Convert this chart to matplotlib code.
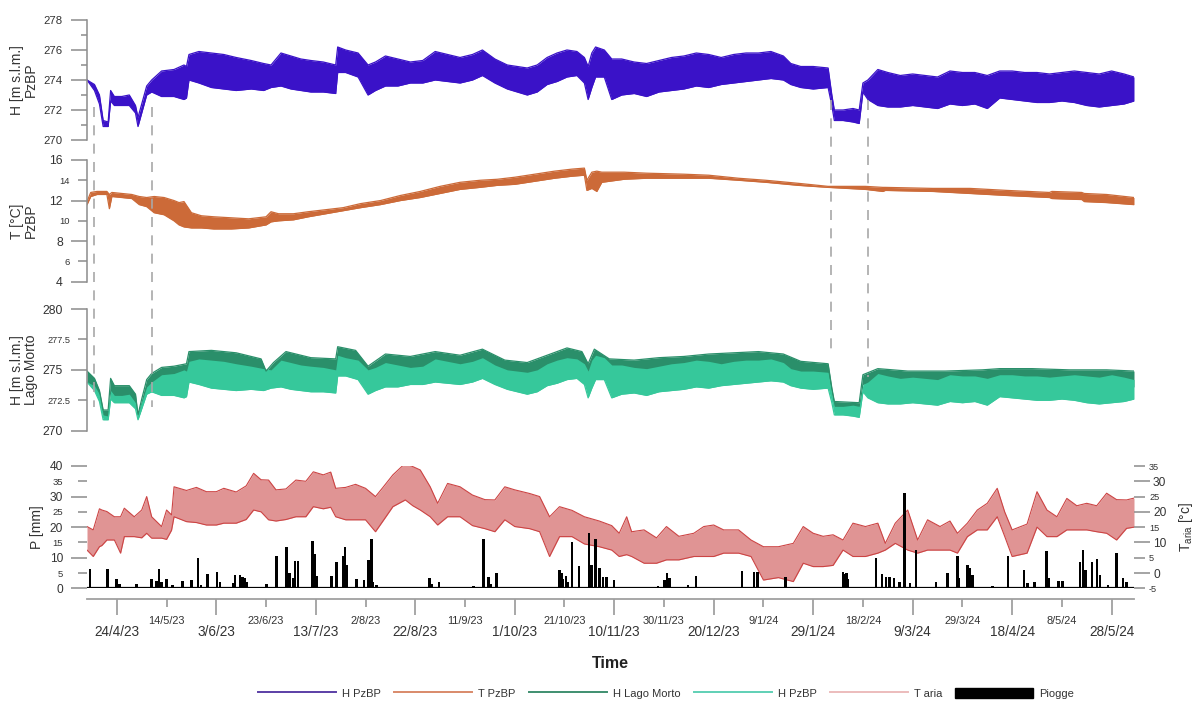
import numpy as np
import matplotlib
matplotlib.use('Agg')
import matplotlib.pyplot as plt
import matplotlib.dates as mdates
import matplotlib.ticker as mticker
import matplotlib.transforms as mtransforms
from matplotlib.lines import Line2D
from matplotlib.patches import Patch
from datetime import datetime

plt.rcParams['font.family'] = ['Liberation Sans', 'DejaVu Sans']

# ---------------- data (day offsets from START) ----------------
START = '2023-04-12'
END_DAY = 421

# H PzBP [m s.l.m.] envelope (upper / lower of the daily oscillation)
h_days = [0, 3, 5, 6.5, 8.5, 9.5, 11, 14, 17, 19.5, 20.5, 22, 24, 26, 30, 35, 39, 40, 41, 45,
          50, 55, 60, 66, 71, 74, 78, 82, 86, 90, 95, 100, 100.8, 104, 109, 113, 116, 120, 125, 130,
          135, 140, 145, 150, 155, 159, 164, 169, 173, 177, 181, 185, 189, 193, 197, 200, 201.5, 203, 204.5, 208,
          211, 215, 220, 225, 230, 235, 240, 245, 250, 255, 260, 265, 270, 275, 280, 283, 287, 292, 298, 299.5,
          300.5, 304, 308, 310.5, 312, 314, 318, 322, 327, 332, 337, 342, 347, 352, 357, 362, 367, 372, 377, 382,
          387, 392, 397, 402, 407, 412, 417, 421]
h_hi = [274.0, 273.7, 273.0, 271.3, 271.2, 273.3, 272.9, 272.9, 273.0, 272.3, 271.5, 272.4, 273.6, 274.0, 274.6, 274.7, 275.0, 274.9, 275.7, 275.9,
        275.8, 275.7, 275.5, 275.3, 275.1, 275.0, 275.8, 275.6, 275.4, 275.3, 275.2, 275.0, 276.2, 276.0, 275.8, 275.0, 275.2, 275.6, 275.4, 275.2,
        275.3, 275.9, 275.7, 275.5, 275.7, 276.0, 275.4, 275.0, 274.9, 274.8, 275.0, 275.5, 275.8, 276.0, 275.9, 275.5, 274.9, 275.8, 276.2, 276.0,
        275.4, 275.4, 275.2, 275.1, 275.3, 275.5, 275.6, 275.8, 275.7, 275.5, 275.7, 275.8, 275.8, 275.9, 275.6, 275.1, 274.9, 274.9, 274.8, 273.0,
        272.0, 272.0, 272.1, 272.0, 273.8, 274.0, 274.7, 274.5, 274.3, 274.4, 274.3, 274.2, 274.6, 274.5, 274.5, 274.3, 274.6, 274.6, 274.5, 274.5,
        274.4, 274.5, 274.6, 274.5, 274.4, 274.6, 274.4, 274.2]
h_lo = [274.0, 273.3, 272.4, 270.9, 270.9, 272.6, 272.3, 272.3, 272.3, 271.8, 270.9, 271.8, 273.0, 273.2, 272.9, 272.9, 272.7, 272.8, 274.0, 273.8,
        273.5, 273.4, 273.3, 273.4, 273.3, 273.5, 273.6, 273.4, 273.3, 273.2, 273.2, 273.1, 274.5, 274.5, 274.2, 273.0, 273.3, 273.6, 273.6, 273.8,
        273.8, 274.0, 273.9, 273.8, 274.0, 274.3, 273.8, 273.4, 273.2, 273.0, 273.2, 273.7, 273.9, 274.2, 274.3, 273.8, 272.7, 273.5, 274.2, 274.2,
        272.7, 273.0, 273.1, 272.9, 273.2, 273.3, 273.4, 273.6, 273.5, 273.7, 273.8, 273.9, 274.0, 274.1, 274.0, 273.7, 273.5, 273.4, 273.5, 272.3,
        271.3, 271.3, 271.2, 271.1, 273.2, 272.7, 272.3, 272.2, 272.2, 272.3, 272.2, 272.1, 272.4, 272.3, 272.4, 272.1, 272.8, 272.7, 272.6, 272.5,
        272.5, 272.6, 272.5, 272.3, 272.2, 272.3, 272.4, 272.6]

# T PzBP [°C]
t_days = [0, 1.5, 4, 8, 9, 10, 14, 18, 21, 24, 27, 31, 35, 37, 39, 42, 46, 51, 58, 65, 72, 74, 77, 83, 89, 96,
          103, 110, 118, 126, 134, 142, 150, 158, 165, 172, 180, 188, 195, 200, 201, 203, 205, 207, 216, 225,
          240, 250, 262, 273, 286, 298, 313, 320, 321, 340, 355, 370, 387, 388, 400, 401, 410, 421]
t_hi = [11.9, 12.8, 12.9, 12.9, 12.6, 12.8, 12.7, 12.6, 12.4, 12.3, 12.4, 12.3, 12.0, 11.8, 11.9, 10.8, 10.5, 10.4, 10.3, 10.2,
        10.4, 10.9, 10.7, 10.7, 10.9, 11.1, 11.3, 11.7, 12.0, 12.5, 12.9, 13.4, 13.8, 14.0, 14.1, 14.3, 14.6, 14.9, 15.1, 15.2,
        14.0, 14.8, 14.9, 14.8, 14.8, 14.7, 14.6, 14.5, 14.2, 14.0, 13.7, 13.4, 13.4, 13.3, 13.3, 13.2, 13.2, 13.0, 12.8, 12.9,
        12.8, 12.7, 12.6, 12.3]
t_lo = [11.6, 12.4, 12.6, 12.6, 11.2, 12.4, 12.3, 12.2, 11.6, 11.4, 10.8, 10.6, 10.0, 9.6, 9.4, 9.3, 9.3, 9.2, 9.2, 9.3,
        9.6, 9.9, 10.0, 10.1, 10.4, 10.7, 11.0, 11.3, 11.6, 12.0, 12.3, 12.7, 13.1, 13.3, 13.5, 13.6, 13.9, 14.2, 14.4, 14.5,
        13.0, 13.2, 12.9, 13.8, 14.1, 14.2, 14.2, 14.2, 14.0, 13.8, 13.5, 13.3, 13.1, 12.9, 13.0, 12.9, 12.7, 12.5, 12.3, 12.2,
        12.1, 11.9, 11.8, 11.6]

# H Lago Morto [m s.l.m.]
lm_days = [0, 3, 5, 6.5, 8.5, 9.5, 11, 17, 19.5, 20.5, 22, 24, 26, 30, 35, 40, 41, 50, 60, 70,
           72, 75, 80, 90, 100, 100.8, 108, 113, 120, 130, 140, 150, 159, 168, 177, 185, 193, 199, 201.5, 204,
           210, 220, 230, 240, 250, 260, 270, 280, 287, 298, 299.5, 300.5, 310.5, 312, 318, 330, 345, 360, 367, 380,
           395, 410, 421]
lm_hi = [274.9, 274.3, 273.3, 271.7, 271.7, 274.3, 273.7, 273.7, 273.0, 271.3, 272.6, 274.2, 274.7, 275.2, 275.3, 275.5, 276.5, 276.6, 276.4, 275.9,
         274.9, 275.6, 276.5, 276.0, 275.9, 276.9, 276.6, 275.3, 276.3, 276.1, 276.5, 276.2, 276.7, 275.8, 275.6, 276.2, 276.8, 276.5, 275.5, 276.7,
         275.9, 275.8, 276.0, 276.1, 276.3, 276.4, 276.5, 276.3, 275.7, 275.5, 273.5, 272.4, 272.3, 274.6, 275.1, 274.9, 274.9, 275.0, 275.1, 275.1,
         275.0, 275.0, 274.9]
lm_lo = [274.0, 273.4, 272.4, 271.1, 271.1, 273.2, 272.8, 272.9, 272.2, 271.0, 271.9, 273.4, 273.8, 274.0, 274.0, 274.0, 275.0, 275.1, 275.0, 274.6,
         274.2, 274.5, 275.0, 274.7, 274.5, 275.6, 275.4, 274.2, 275.0, 274.9, 275.2, 274.9, 275.3, 274.6, 274.3, 274.8, 275.4, 275.2, 274.0, 275.3,
         274.4, 274.4, 274.6, 274.7, 274.9, 275.0, 275.1, 275.0, 274.6, 274.5, 272.9, 271.7, 271.6, 273.8, 273.9, 273.7, 273.6, 273.7, 273.9, 273.8,
         273.7, 273.6, 273.6]

# T aria [°C]
ta_days = [0, 2.5, 5, 6, 8, 11, 13.5, 15, 19, 22, 24, 26, 30, 32, 34, 35, 40, 44, 48, 52,
           55, 60, 64, 67, 70, 73, 76, 80, 84, 88, 91, 95, 98, 100, 104, 108, 112, 116, 119, 123,
           128, 131, 134, 138, 141, 145, 150, 155, 160, 164, 168, 172, 178, 182, 186, 190, 195, 200, 206, 211,
           214, 217, 219, 224, 229, 233, 238, 244, 248, 252, 256, 262, 267, 272, 278, 284, 288, 292, 296, 300,
           304, 308, 313, 318, 321, 325, 330, 334, 338, 343, 347, 350, 354, 358, 362, 366, 369, 372, 378, 382,
           386, 390, 394, 398, 402, 406, 410, 414, 418, 421]
ta_hi = [15.2, 14.1, 21.0, 20.6, 20.1, 18.4, 18.4, 21.2, 18.4, 20.6, 25.0, 18.4, 15.2, 20.6, 19.0, 28.2, 27.0, 28.0, 26.6, 26.6,
         27.7, 26.5, 28.5, 32.6, 30.5, 30.4, 27.2, 27.5, 30.4, 30.0, 33.1, 32.1, 33.0, 27.7, 28.0, 29.0, 27.7, 25.0, 28.0, 32.1,
         35.9, 34.8, 33.7, 28.2, 22.8, 29.3, 28.2, 25.5, 24.0, 23.9, 28.2, 27.2, 26.0, 25.0, 18.4, 21.7, 20.5, 18.4, 17.0, 15.5,
         13.0, 18.4, 13.5, 14.1, 11.5, 15.2, 12.0, 13.0, 15.2, 15.7, 14.1, 14.1, 10.8, 8.6, 8.6, 9.7, 15.2, 13.0, 12.0, 12.5,
         10.8, 16.3, 15.2, 16.3, 9.7, 16.3, 20.6, 10.8, 17.4, 15.2, 17.0, 13.0, 16.3, 20.6, 22.8, 27.7, 20.0, 14.1, 16.0, 26.6,
         20.6, 18.4, 24.4, 22.0, 22.8, 22.0, 26.1, 24.0, 23.9, 24.5]
ta_lo = [7.5, 5.4, 8.6, 9.0, 10.8, 10.8, 6.5, 11.9, 11.9, 11.5, 13.0, 11.4, 11.4, 11.0, 14.0, 18.4, 16.8, 16.5, 15.7, 15.7,
         16.3, 16.3, 17.5, 20.6, 20.0, 17.4, 17.0, 17.5, 18.4, 18.4, 21.7, 21.0, 21.5, 18.4, 17.4, 17.4, 17.4, 13.5, 17.0, 21.7,
         23.9, 22.0, 20.6, 18.4, 15.7, 18.4, 18.4, 15.5, 14.5, 13.5, 17.4, 15.2, 14.5, 13.5, 5.4, 11.9, 11.9, 9.5, 8.6, 7.5,
         5.4, 6.0, 5.4, 3.2, 3.2, 4.3, 4.3, 5.4, 5.4, 5.4, 6.5, 6.5, 5.4, -2.3, -1.5, -2.8, 3.2, 2.1, 2.1, 2.5,
         7.5, 5.4, 5.4, 6.5, 7.5, 9.7, 7.5, 6.5, 7.5, 7.5, 7.5, 6.5, 11.9, 14.1, 14.1, 18.4, 12.0, 5.4, 6.5, 15.0,
         11.9, 11.9, 14.1, 14.1, 14.1, 13.5, 13.0, 10.8, 14.6, 15.0]

# Piogge (rain) [mm]
rain_days = [1.2, 8.3, 11.9, 13, 19.9, 25.9, 28, 29, 30, 32,
             34.4, 38.4, 42, 44.7, 45.8, 48.5, 52.3, 53.4, 58.8, 59.6,
             61.5, 62.5, 63.3, 64.2, 72.2, 76.2, 80.2, 81.5, 82.9, 83.6,
             84.9, 90.6, 91.6, 92.3, 98.3, 100.3, 103, 103.8, 104.6, 108.3,
             111.4, 113.2, 114.3, 115, 116.4, 137.8, 138.5, 141.5, 155.5, 159.5,
             161.4, 162.2, 164.6, 190, 190.8, 191.5, 192.7, 193.5, 195.1, 197.8,
             201.8, 202.8, 204.5, 206.1, 207.5, 208.8, 211.9, 229.7, 232.3, 233.2,
             234.2, 241.6, 244.9, 263.4, 268.3, 269.7, 280.8, 303.9, 304.6, 305.3,
             305.9, 317.3, 319.7, 321.3, 322.6, 324.4, 326.7, 328.7, 331, 333.3,
             341.3, 346, 350, 350.7, 354, 355, 356, 364.1, 370.4, 376.8,
             378.2, 380.9, 385.8, 386.9, 390.7, 392.3, 399.2, 400.5, 401.5, 404.2,
             406.2, 407.3, 410.6, 414, 416.6, 418]
rain_mm = [6.3, 6.3, 3.0, 1.5, 1.4, 3.0, 2.5, 6.2, 2.0, 3.0,
           1.0, 2.4, 2.7, 9.8, 1.0, 4.6, 5.4, 2.0, 1.6, 4.4,
           4.4, 3.8, 3.3, 2.0, 1.4, 10.6, 13.5, 4.9, 3.3, 9.0,
           9.0, 15.6, 11.2, 4.0, 4.0, 8.7, 10.6, 13.6, 7.6, 3.2,
           2.7, 9.3, 16.1, 2.2, 1.1, 3.3, 1.5, 2.0, 0.9, 16.1,
           3.8, 1.5, 5.1, 6.0, 5.0, 3.0, 4.0, 2.0, 15.3, 7.3,
           18.0, 7.6, 16.0, 6.5, 3.8, 3.8, 2.7, 0.8, 2.7, 4.9,
           3.5, 1.1, 4.0, 5.8, 5.2, 5.2, 3.8, 5.4, 4.7, 5.0,
           3.0, 9.8, 4.6, 3.8, 3.8, 3.3, 1.9, 31.3, 1.6, 12.5,
           1.9, 5.1, 10.6, 3.3, 7.6, 6.5, 4.5, 0.8, 10.6, 6.0,
           1.6, 2.2, 12.3, 3.3, 2.4, 2.4, 8.7, 12.5, 6.0, 8.5,
           9.5, 4.4, 1.1, 11.7, 3.5, 2.2]

# x tick labels (two staggered rows)
major_tick_labels = ['24/4/23', '3/6/23', '13/7/23', '22/8/23', '1/10/23', '10/11/23',
                     '20/12/23', '29/1/24', '9/3/24', '18/4/24', '28/5/24']
minor_tick_labels = ['14/5/23', '23/6/23', '2/8/23', '11/9/23', '21/10/23', '30/11/23',
                     '9/1/24', '18/2/24', '29/3/24', '8/5/24']

# dashed event markers
event_dates = ['2023-04-15', '2023-05-08', '2024-02-05', '2024-02-20']

legend_labels = ['H PzBP', 'T PzBP', 'H Lago Morto', 'H PzBP', 'T aria', 'Piogge']

# ---------------- helpers ----------------
start = np.datetime64(START + 'T00:00')


def to_dates(days):
    return start + (np.asarray(days, float) * 1440).astype('timedelta64[m]')


def parse_lbl(s):
    return datetime.strptime(s, '%d/%m/%y')


x0 = to_dates([0])[0]
x1 = to_dates([END_DAY])[0]

GREY = '#8c8c8c'
TXT = '#333333'
PX = 0.72  # points per pixel at dpi 100

fig = plt.figure(figsize=(11.95, 7.16), dpi=100)
L, W = 87 / 1195, 1047 / 1195


def pos(top_px, bottom_px):
    return [L, 1 - bottom_px / 716, W, (bottom_px - top_px) / 716]


def xfrac(px):
    return (px - 87) / 1047


ax1 = fig.add_axes(pos(20, 140))
ax2 = fig.add_axes(pos(160, 281.7))
ax3 = fig.add_axes(pos(309, 430.7))
ax4 = fig.add_axes(pos(466, 588.3))
ax4t = ax4.twinx()

for ax in (ax1, ax2, ax3, ax4, ax4t):
    ax.set_xlim(x0, x1)
    ax.patch.set_visible(False)
    for s in ('top', 'right', 'bottom'):
        ax.spines[s].set_visible(False)
    ax.spines['left'].set_color(GREY)
    ax.spines['left'].set_linewidth(1.1)

for ax in (ax1, ax2, ax3):
    ax.tick_params(axis='x', which='both', bottom=False, labelbottom=False)


def style_y(ax, major, minor, big, small, minor_labels=True, side='left',
            minor_len=9, minor_pad=8):
    ax.yaxis.set_major_locator(mticker.FixedLocator(major))
    ax.yaxis.set_minor_locator(mticker.FixedLocator(minor))
    ax.yaxis.set_major_formatter(mticker.FuncFormatter(lambda v, p: ('%g' % v)))
    if minor_labels:
        ax.yaxis.set_minor_formatter(mticker.FuncFormatter(lambda v, p: ('%g' % v)))
    else:
        ax.yaxis.set_minor_formatter(mticker.NullFormatter())
    kw = dict(left=(side == 'left'), right=(side == 'right'),
              labelleft=(side == 'left'), labelright=(side == 'right'))
    ax.tick_params(axis='y', which='major', length=16 * PX, width=1.1, color=GREY,
                   labelsize=big, labelcolor=TXT, pad=8 * PX, **kw)
    ax.tick_params(axis='y', which='minor', length=minor_len * PX, width=1.1, color=GREY,
                   labelsize=small, labelcolor=TXT, pad=minor_pad * PX, **kw)


# Panel 1: H PzBP
d = to_dates(h_days)
ax1.fill_between(d, h_lo, h_hi, color='#3a12c8', lw=0)
ax1.plot(d, h_hi, color='#3a12c8', lw=0.9)
ax1.plot(d, h_lo, color='#3a12c8', lw=0.9)
ax1.set_ylim(270, 278)
style_y(ax1, [270, 272, 274, 276, 278], [271, 273, 275, 277], 8.2, 7, minor_labels=False, minor_len=6)
ax1.set_ylabel('H [m s.l.m.]\nPzBP', fontsize=10, color=TXT, linespacing=1.0)
ax1.yaxis.set_label_coords(xfrac(38), 0.5)

# Panel 2: T PzBP
d = to_dates(t_days)
ax2.fill_between(d, t_lo, t_hi, color='#cc6a38', lw=0)
ax2.plot(d, t_hi, color='#cc6a38', lw=0.9)
ax2.plot(d, t_lo, color='#cc6a38', lw=0.9)
ax2.set_ylim(4, 16)
style_y(ax2, [4, 8, 12, 16], [6, 10, 14], 8.8, 6.8)
ax2.set_ylabel('T [°C]\nPzBP', fontsize=10, color=TXT, linespacing=1.0)
ax2.yaxis.set_label_coords(xfrac(38), 0.5)

# Panel 3: H Lago Morto + H PzBP
d = to_dates(lm_days)
ax3.fill_between(d, lm_lo, lm_hi, color='#2a8f6a', lw=0)
ax3.plot(d, lm_hi, color='#2a8f6a', lw=0.9)
d = to_dates(h_days)
ax3.fill_between(d, h_lo, h_hi, color='#36c89b', lw=0)
ax3.plot(d, h_lo, color='#36c89b', lw=0.9)
ax3.set_ylim(270, 280)
style_y(ax3, [270, 275, 280], [272.5, 277.5], 8.8, 6.6)
ax3.set_ylabel('H [m s.l.m.]\nLago Morto', fontsize=10, color=TXT, linespacing=1.0)
ax3.yaxis.set_label_coords(xfrac(38), 0.5)

# Panel 4: T aria (right axis) and rain (left axis)
d = to_dates(ta_days)
ax4t.fill_between(d, ta_lo, ta_hi, color='#e09494', lw=0)
ax4t.plot(d, ta_hi, color='#cc4444', lw=0.8)
ax4t.plot(d, ta_lo, color='#cc4444', lw=0.8)
ax4t.set_ylim(-5, 35)
ax4t.spines['left'].set_visible(False)
style_y(ax4t, [0, 10, 20, 30], [-5, 5, 15, 25, 35], 8.6, 6.6, side='right',
        minor_len=11, minor_pad=4)
ax4t.tick_params(axis='y', which='major', pad=3 * PX)
ax4t.set_ylabel('T$_{\\mathregular{aria}}$ [°c]', fontsize=10, color=TXT)
ax4t.yaxis.set_label_coords(xfrac(1177), 0.5)
ax4t.tick_params(axis='x', which='both', bottom=False, labelbottom=False)

ax4.set_zorder(ax4t.get_zorder() + 1)
ax4.bar(to_dates(rain_days), rain_mm, width=1.0, color='black', linewidth=0, align='center')
ax4.axhline(0, color='black', lw=1.6)
ax4.set_ylim(0, 40)
ax4.spines['left'].set_visible(False)
style_y(ax4, [0, 10, 20, 30, 40], [5, 15, 25, 35], 8.6, 6.8, minor_len=9, minor_pad=15)
ax4.set_ylabel('P [mm]', fontsize=10, color=TXT)
ax4.yaxis.set_label_coords(xfrac(44), 0.5)

# bottom date axis
ax4.spines['bottom'].set_visible(True)
ax4.spines['bottom'].set_position(('outward', 11 * PX))
ax4.spines['bottom'].set_color('#a0a0a0')
ax4.spines['bottom'].set_linewidth(1.3)
ax4.set_xticks([parse_lbl(s) for s in major_tick_labels])
ax4.set_xticklabels(major_tick_labels)
ax4.set_xticks([parse_lbl(s) for s in minor_tick_labels], minor=True)
ax4.set_xticklabels(minor_tick_labels, minor=True)
ax4.tick_params(axis='x', which='major', length=16 * PX, width=1.3, color='#a0a0a0',
                labelsize=9.8, labelcolor=TXT, pad=10 * PX)
ax4.tick_params(axis='x', which='minor', length=8 * PX, width=1.3, color='#a0a0a0',
                labelsize=7.9, labelcolor=TXT, pad=9 * PX)
ax4.set_xlim(x0, x1)
ax4.set_xlabel('Time', fontsize=11.5, fontweight='bold', color='#222222', labelpad=12)

# dashed event markers spanning the three upper panels
trans = mtransforms.blended_transform_factory(ax1.transData, fig.transFigure)
spans = [(107, 407), (107, 407), (100, 353), (100, 377)]
for ev, (ytop, ybot) in zip(event_dates, spans):
    xv = mdates.date2num(np.datetime64(ev))
    fig.add_artist(Line2D([xv, xv], [1 - ytop / 716, 1 - ybot / 716], transform=trans,
                          color='#a8a8a8', lw=1.2, dashes=(6, 5)))

# legend
handles = [Line2D([], [], color='#5b3fa6', lw=1.4),
           Line2D([], [], color='#d98a6a', lw=1.4),
           Line2D([], [], color='#3f8f70', lw=1.4),
           Line2D([], [], color='#5fd0b5', lw=1.4),
           Line2D([], [], color='#ecbcbc', lw=1.4),
           Patch(facecolor='black', edgecolor='black')]
fig.legend(handles, legend_labels, loc='center', bbox_to_anchor=(0.5575, 0.032), ncol=6,
           frameon=False, fontsize=8, handlelength=7.0, handletextpad=0.55,
           columnspacing=1.2, handleheight=1.1, labelcolor=TXT)

fig.savefig('out.png', dpi=100)
